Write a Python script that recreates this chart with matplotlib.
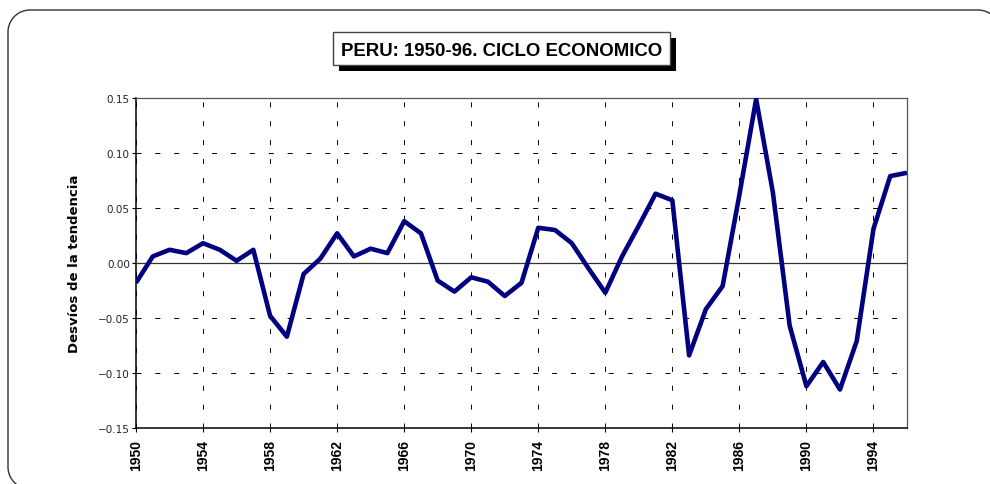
import matplotlib
matplotlib.use("Agg")
import matplotlib.pyplot as plt
import numpy as np
from matplotlib.lines import Line2D
from matplotlib.patches import Rectangle
from matplotlib.ticker import MultipleLocator, FixedLocator

plt.rcParams['lines.scale_dashes'] = False

years = list(range(1950, 1997))
desvios = [-0.018, 0.006, 0.012, 0.009, 0.018, 0.012, 0.002, 0.012,
           -0.048, -0.067, -0.010, 0.004, 0.027, 0.006, 0.013, 0.009,
           0.038, 0.027, -0.016, -0.026, -0.013, -0.017, -0.030, -0.018,
           0.032, 0.030, 0.018, -0.005, -0.027, 0.006, 0.034, 0.063,
           0.057, -0.084, -0.042, -0.021, 0.062, 0.149, 0.064, -0.057,
           -0.112, -0.090, -0.115, -0.071, 0.031, 0.079, 0.082]
xtick_years = list(range(1950, 1995, 4))
yticks = [-0.15, -0.10, -0.05, 0.00, 0.05, 0.10, 0.15]
ytick_labels = ["\u22120.15", "\u22120.10", "\u22120.05", "0.00", "0.05", "0.10", "0.15"]
title = "PERU: 1950-96. CICLO ECONOMICO"
ylabel = "Desvíos de la tendencia"

W, H = 990, 485
fig = plt.figure(figsize=(W / 100, H / 100), dpi=100)
fig.patch.set_facecolor("white")

# rounded outer frame (open path, pixel geometry from top-left)
r = 22.0
L, T, R, B = 8.0, 11.0, 1000.0, 490.0
def arc(cx, cy, a0, a1):
    t = np.radians(np.linspace(a0, a1, 20))
    return list(cx + r * np.cos(t)), list(cy - r * np.sin(t))
fx, fy = [200.0, L + r], [B, B]
ax_, ay_ = arc(L + r, B - r, 270, 180); fx += ax_; fy += ay_
fx += [L]; fy += [T + r]
ax_, ay_ = arc(L + r, T + r, 180, 90); fx += ax_; fy += ay_
fx += [R - r]; fy += [T]
ax_, ay_ = arc(R - r, T + r, 90, 0); fx += ax_; fy += ay_
fx += [R]; fy += [B]
frame = Line2D([x / W for x in fx], [(H - y) / H for y in fy],
               transform=fig.transFigure, color="#333333", linewidth=1.0,
               solid_joinstyle="round")
fig.add_artist(frame)

ax = fig.add_axes([136 / W, (H - 429) / H, 771 / W, 330 / H])
ax.plot(years, desvios, color="#000080", linewidth=3.3,
        solid_joinstyle="round", solid_capstyle="butt", zorder=5)
ax.axhline(0, color="#333333", linewidth=0.9, zorder=3)

ax.set_xlim(1950, 1996)
ax.set_ylim(-0.15, 0.15)
ax.xaxis.set_major_locator(FixedLocator(xtick_years))
ax.xaxis.set_minor_locator(MultipleLocator(1))
ax.set_xticks(xtick_years)
ax.set_xticklabels([str(y) for y in xtick_years], rotation=90,
                   fontsize=10, fontweight="bold", family="Liberation Sans")
ax.set_yticks(yticks)
ax.set_yticklabels(ytick_labels, fontsize=7.5, color="#222222", family="DejaVu Sans")

ax.tick_params(axis="y", which="major", length=3, width=0.8, pad=1.5, direction="out")
ax.tick_params(axis="x", which="major", length=3, width=0.8, pad=5, direction="out")
ax.tick_params(axis="x", which="minor", length=0)

ax.grid(True, which="major", color="black", linewidth=0.7,
        linestyle=(0, (3.6, 10)), zorder=1)

for s in ["left", "bottom"]:
    ax.spines[s].set_color("black")
    ax.spines[s].set_linewidth(1.1)
for s in ["right", "top"]:
    ax.spines[s].set_color("#555555")
    ax.spines[s].set_linewidth(0.9)

ax.set_ylabel(ylabel, fontsize=9.5, fontweight="bold", family="DejaVu Sans", labelpad=12)

# title box with shadow
shadow = Rectangle((339 / W, (H - 72) / H), 337 / W, 33 / H,
                   transform=fig.transFigure, facecolor="black",
                   edgecolor="black", linewidth=0, zorder=10)
box = Rectangle((333 / W, (H - 66) / H), 337 / W, 33 / H,
                transform=fig.transFigure, facecolor="white",
                edgecolor="#444444", linewidth=1.0, zorder=11)
fig.patches.append(shadow)
fig.patches.append(box)
fig.text(502 / W, (H - 51.5) / H, title, ha="center", va="center",
         fontsize=13.4, fontweight="bold", family="Liberation Sans", zorder=12)

fig.savefig("out.png", dpi=100)
